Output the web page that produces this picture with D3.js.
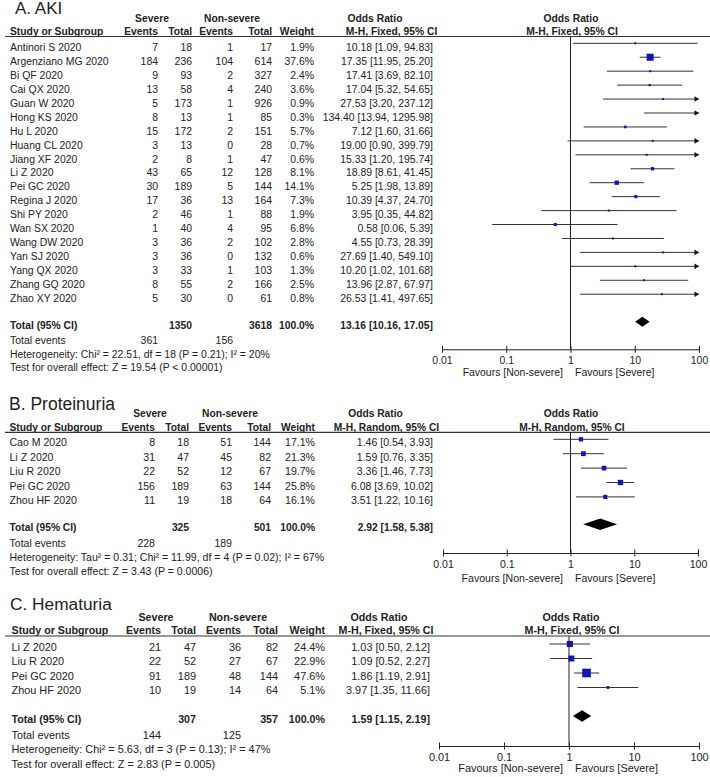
<!DOCTYPE html>
<html>
<head>
<meta charset="utf-8">
<script src="https://cdn.jsdelivr.net/npm/d3@7"></script>
<style>
  body { margin: 0; background: #fff; }
  svg text { font-family: "Liberation Sans", Arial, sans-serif; fill: #222; }
</style>
</head>
<body>
<script>
// ---- A. AKI ----
let akiStudies = ["Antinori S 2020", "Argenziano MG 2020", "Bi QF 2020", "Cai QX 2020", "Guan W 2020",
  "Hong KS 2020", "Hu L 2020", "Huang CL 2020", "Jiang XF 2020", "Li Z 2020", "Pei GC 2020",
  "Regina J 2020", "Shi PY 2020", "Wan SX 2020", "Wang DW 2020", "Yan SJ 2020", "Yang QX 2020",
  "Zhang GQ 2020", "Zhao XY 2020"];
let akiEventsSevere = [7, 184, 9, 13, 5, 8, 15, 3, 2, 43, 30, 17, 2, 1, 3, 3, 3, 8, 5];
let akiTotalSevere = [18, 236, 93, 58, 173, 13, 172, 13, 8, 65, 189, 36, 46, 40, 36, 36, 33, 55, 30];
let akiEventsNon = [1, 104, 2, 4, 1, 1, 2, 0, 1, 12, 5, 13, 1, 4, 2, 0, 1, 2, 0];
let akiTotalNon = [17, 614, 327, 240, 926, 85, 151, 28, 47, 128, 144, 164, 88, 95, 102, 132, 103, 166, 61];
let akiWeight = [1.9, 37.6, 2.4, 3.6, 0.9, 0.3, 5.7, 0.7, 0.6, 8.1, 14.1, 7.3, 1.9, 6.8, 2.8, 0.6, 1.3, 2.5, 0.8];
let akiOR = [10.18, 17.35, 17.41, 17.04, 27.53, 134.40, 7.12, 19.00, 15.33, 18.89, 5.25, 10.39, 3.95, 0.58, 4.55, 27.69, 10.20, 13.96, 26.53];
let akiLower = [1.09, 11.95, 3.69, 5.32, 3.20, 13.94, 1.60, 0.90, 1.20, 8.61, 1.98, 4.37, 0.35, 0.06, 0.73, 1.40, 1.02, 2.87, 1.41];
let akiUpper = [94.83, 25.20, 82.10, 54.65, 237.12, 1295.98, 31.66, 399.79, 195.74, 41.45, 13.89, 24.70, 44.82, 5.39, 28.39, 549.10, 101.68, 67.97, 497.65];
let akiTotal = [1350, 3618, 13.16, 10.16, 17.05];
let akiTotalEvents = [361, 156];

// ---- B. Proteinuria ----
let protStudies = ["Cao M 2020", "Li Z 2020", "Liu R 2020", "Pei GC 2020", "Zhou HF 2020"];
let protEventsSevere = [8, 31, 22, 156, 11];
let protTotalSevere = [18, 47, 52, 189, 19];
let protEventsNon = [51, 45, 12, 63, 18];
let protTotalNon = [144, 82, 67, 144, 64];
let protWeight = [17.1, 21.3, 19.7, 25.8, 16.1];
let protOR = [1.46, 1.59, 3.36, 6.08, 3.51];
let protLower = [0.54, 0.76, 1.46, 3.69, 1.22];
let protUpper = [3.93, 3.35, 7.73, 10.02, 10.16];
let protTotal = [325, 501, 2.92, 1.58, 5.38];
let protTotalEvents = [228, 189];

// ---- C. Hematuria ----
let hemaStudies = ["Li Z 2020", "Liu R 2020", "Pei GC 2020", "Zhou HF 2020"];
let hemaEventsSevere = [21, 22, 91, 10];
let hemaTotalSevere = [47, 52, 189, 19];
let hemaEventsNon = [36, 27, 48, 14];
let hemaTotalNon = [82, 67, 144, 64];
let hemaWeight = [24.4, 22.9, 47.6, 5.1];
let hemaOR = [1.03, 1.09, 1.86, 3.97];
let hemaLower = [0.50, 0.52, 1.19, 1.35];
let hemaUpper = [2.12, 2.27, 2.91, 11.66];
let hemaTotal = [307, 357, 1.59, 1.15, 2.19];
let hemaTotalEvents = [144, 125];

let axisTicks = [0.01, 0.1, 1, 10, 100];
let axisTickLabels = ["0.01", "0.1", "1", "10", "100"];

function makeRows(names, evS, totS, evN, totN, w, or, lo, hi) {
  return names.map(function (n, i) {
    return { name: n, evS: evS[i], totS: totS[i], evN: evN[i], totN: totN[i], w: w[i], or: or[i], lo: lo[i], hi: hi[i] };
  });
}

let panels = [
  {
    title: "A. AKI", method: "M-H, Fixed, 95% CI",
    rows: makeRows(akiStudies, akiEventsSevere, akiTotalSevere, akiEventsNon, akiTotalNon, akiWeight, akiOR, akiLower, akiUpper),
    total: akiTotal, events: akiTotalEvents,
    het: "Heterogeneity: Chi\u00b2 = 22.51, df = 18 (P = 0.21); I\u00b2 = 20%",
    test: "Test for overall effect: Z = 19.54 (P < 0.00001)",
    fs: 10.45, fsB: 10.3, titleFs: 17, titleX: 15, titleY: 13.5, left: 10,
    cols: [158, 192, 233, 272, 314, 433], sevC: 152, nonC: 232, orC: 375, mhC: 391.5,
    grpY: 21.7, hdrY: 34.7, lineY: 36.5, row0: 43.3, step: 13.94, textOff: 7.7,
    totalY: 321.7, evY: 344, hetY: 358, testY: 371, axisY: 349.3, tickY: 364, favY: 376,
    k: 1.15, dh: 10, x0: 442, x1: 699
  },
  {
    title: "B. Proteinuria", method: "M-H, Random, 95% CI",
    rows: makeRows(protStudies, protEventsSevere, protTotalSevere, protEventsNon, protTotalNon, protWeight, protOR, protLower, protUpper),
    total: protTotal, events: protTotalEvents,
    het: "Heterogeneity: Tau\u00b2 = 0.31; Chi\u00b2 = 11.99, df = 4 (P = 0.02); I\u00b2 = 67%",
    test: "Test for overall effect: Z = 3.43 (P = 0.0006)",
    fs: 10.55, fsB: 10.25, titleFs: 17.5, titleX: 9, titleY: 410, left: 9.5,
    cols: [155, 189, 232, 271, 315, 433], sevC: 150, nonC: 230, orC: 375.5, mhC: 386.5,
    grpY: 416.7, hdrY: 430.5, lineY: 432.4, row0: 439.3, step: 14.4, textOff: 7,
    totalY: 524.3, evY: 547, hetY: 561, testY: 574.5, axisY: 553, tickY: 568, favY: 581.5,
    k: 1.05, dh: 11.5, x0: 443, x1: 698
  },
  {
    title: "C. Hematuria", method: "M-H, Fixed, 95% CI",
    rows: makeRows(hemaStudies, hemaEventsSevere, hemaTotalSevere, hemaEventsNon, hemaTotalNon, hemaWeight, hemaOR, hemaLower, hemaUpper),
    total: hemaTotal, events: hemaTotalEvents,
    het: "Heterogeneity: Chi\u00b2 = 5.63, df = 3 (P = 0.13); I\u00b2 = 47%",
    test: "Test for overall effect: Z = 2.83 (P = 0.005)",
    fs: 10.9, fsB: 10.7, titleFs: 17.3, titleX: 10, titleY: 610, left: 11.5,
    cols: [161, 196, 241, 278, 325, 430], sevC: 156, nonC: 238, orC: 379, mhC: 386,
    grpY: 620.5, hdrY: 634, lineY: 636, row0: 644, step: 14.5, textOff: 6.5,
    totalY: 716, evY: 739, hetY: 753, testY: 768, axisY: 746, tickY: 761, favY: 771.5,
    k: 1.25, dh: 11.5, x0: 439, x1: 699
  }
];

let f2 = d3.format(".2f");
let f1 = d3.format(".1f");

function orText(or, lo, hi) {
  return f2(or) + " [" + f2(lo) + ", " + f2(hi) + "]";
}

function addText(g, x, y, txt, fs, anchor, bold) {
  return g.append("text")
    .attr("x", x)
    .attr("y", y)
    .attr("text-anchor", anchor || "start")
    .style("font-size", fs + "px")
    .style("font-weight", bold ? "bold" : "normal")
    .text(txt);
}

function drawPanel(svg, p) {
  let g = svg.append("g");
  let x = d3.scaleLog().domain([0.01, 100]).range([p.x0, p.x1]);
  let yMark = function (i) { return p.row0 + i * p.step; };
  let c = p.cols;
  let fs = p.fs;
  let fsB = p.fsB;

  addText(g, p.titleX, p.titleY, p.title, p.titleFs);

  // headers
  addText(g, p.sevC, p.grpY, "Severe", fsB, "middle", true);
  addText(g, p.nonC, p.grpY, "Non-severe", fsB, "middle", true);
  addText(g, p.orC, p.grpY, "Odds Ratio", fsB, "middle", true);
  addText(g, 571, p.grpY, "Odds Ratio", fsB, "middle", true);
  addText(g, p.left, p.hdrY, "Study or Subgroup", fsB, "start", true);
  ["Events", "Total", "Events", "Total", "Weight"].forEach(function (h, i) {
    addText(g, c[i], p.hdrY, h, fsB, "end", true);
  });
  addText(g, p.mhC, p.hdrY, p.method, fsB, "middle", true);
  addText(g, 572, p.hdrY, p.method, fsB, "middle", true);

  g.append("line")
    .attr("x1", 5).attr("x2", 710)
    .attr("y1", p.lineY).attr("y2", p.lineY)
    .attr("stroke", "#333").attr("stroke-width", 1.1);

  // study rows
  let row = g.selectAll("g.row")
    .data(p.rows)
    .enter()
    .append("g")
    .attr("class", "row");

  row.each(function (d, i) {
    let r = d3.select(this);
    let ty = yMark(i) + p.textOff;
    addText(r, p.left, ty, d.name, fs);
    addText(r, c[0], ty, d.evS, fs, "end");
    addText(r, c[1], ty, d.totS, fs, "end");
    addText(r, c[2], ty, d.evN, fs, "end");
    addText(r, c[3], ty, d.totN, fs, "end");
    addText(r, c[4], ty, f1(d.w) + "%", fs, "end");
    addText(r, c[5], ty, orText(d.or, d.lo, d.hi), fs, "end");
  });

  // confidence intervals
  row.append("line")
    .attr("x1", function (d) { return x(Math.max(d.lo, 0.01)); })
    .attr("x2", function (d) { return x(Math.min(d.hi, 100)); })
    .attr("y1", function (d, i) { return yMark(i); })
    .attr("y2", function (d, i) { return yMark(i); })
    .attr("stroke", "#333")
    .attr("stroke-width", 1);

  row.filter(function (d) { return d.hi > 100; })
    .append("path")
    .attr("d", function (d) {
      let i = p.rows.indexOf(d);
      let tx = x(100), ty = yMark(i);
      return "M" + tx + "," + ty + "L" + (tx - 4.5) + "," + (ty - 2.8) + "L" + (tx - 4.5) + "," + (ty + 2.8) + "Z";
    })
    .attr("fill", "#111");

  row.filter(function (d) { return d.or <= 100 && d.or >= 0.01; })
    .append("rect")
    .each(function (d) {
      let i = p.rows.indexOf(d);
      let s = Math.max(2, p.k * Math.sqrt(d.w));
      d3.select(this)
        .attr("x", x(d.or) - s / 2)
        .attr("y", yMark(i) - s / 2)
        .attr("width", s)
        .attr("height", s);
    })
    .attr("fill", "#1414b4");

  // totals
  let t = p.total;
  let tty = p.totalY + 7;
  addText(g, p.left, tty, "Total (95% CI)", fsB, "start", true);
  addText(g, c[1], tty, t[0], fsB, "end", true);
  addText(g, c[3], tty, t[1], fsB, "end", true);
  addText(g, c[4], tty, "100.0%", fsB, "end", true);
  addText(g, c[5], tty, orText(t[2], t[3], t[4]), fsB, "end", true);

  g.append("path")
    .attr("d", "M" + x(t[3]) + "," + p.totalY +
      "L" + x(t[2]) + "," + (p.totalY - p.dh / 2) +
      "L" + x(t[4]) + "," + p.totalY +
      "L" + x(t[2]) + "," + (p.totalY + p.dh / 2) + "Z")
    .attr("fill", "#000");

  addText(g, p.left, p.evY, "Total events", fs);
  addText(g, c[0], p.evY, p.events[0], fs, "end");
  addText(g, c[2], p.evY, p.events[1], fs, "end");
  addText(g, p.left, p.hetY, p.het, fs);
  addText(g, p.left, p.testY, p.test, fs);

  // line of no effect
  g.append("line")
    .attr("x1", x(1)).attr("x2", x(1))
    .attr("y1", p.lineY).attr("y2", p.axisY)
    .attr("stroke", "#222").attr("stroke-width", 1);

  // axis
  let axis = g.append("g")
    .attr("transform", "translate(0," + p.axisY + ")")
    .call(d3.axisBottom(x).tickValues(axisTicks).tickSizeOuter(0).tickSizeInner(3.5)
      .tickFormat(function (d, i) { return axisTickLabels[i]; }));
  axis.select(".domain").attr("stroke", "#222");
  axis.selectAll(".tick line").attr("y1", -3.5).attr("y2", 3.5).attr("stroke", "#222");
  axis.selectAll(".tick text")
    .attr("y", p.tickY - p.axisY)
    .attr("dy", null)
    .style("font-size", fs + "px")
    .attr("fill", null);
  axis.attr("font-family", null).attr("font-size", null);

  addText(g, 563, p.favY, "Favours [Non-severe]", fs, "end");
  addText(g, 575, p.favY, "Favours [Severe]", fs, "start");
}

let svg = d3.select("body")
  .append("svg")
  .attr("width", 710)
  .attr("height", 777);

panels.forEach(function (p) { drawPanel(svg, p); });
</script>
</body>
</html>
